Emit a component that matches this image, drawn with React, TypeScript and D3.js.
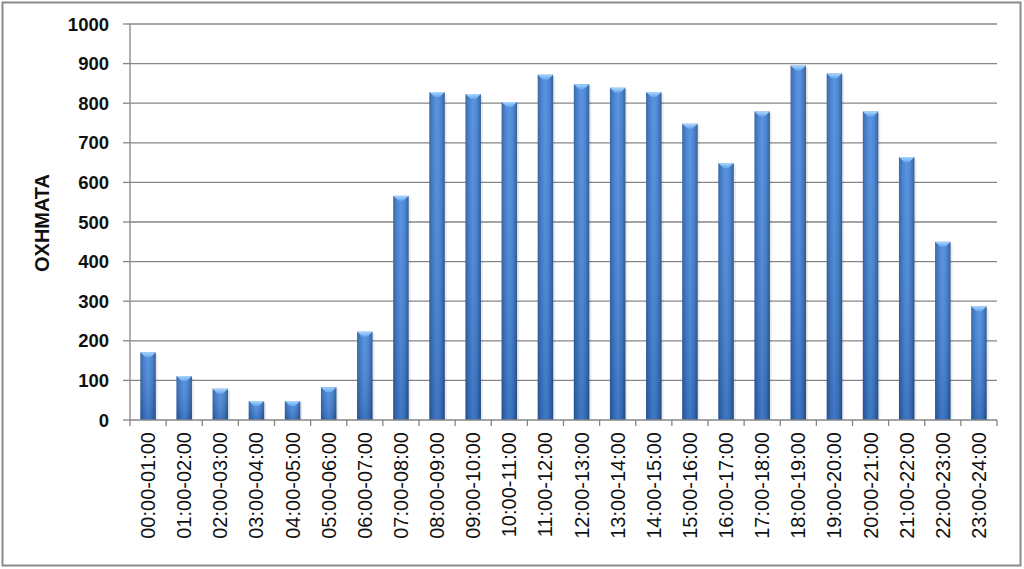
import React from "react";
import * as d3 from "d3";

const categories: string[] = [
  "00:00-01:00", "01:00-02:00", "02:00-03:00", "03:00-04:00", "04:00-05:00", "05:00-06:00",
  "06:00-07:00", "07:00-08:00", "08:00-09:00", "09:00-10:00", "10:00-11:00", "11:00-12:00",
  "12:00-13:00", "13:00-14:00", "14:00-15:00", "15:00-16:00", "16:00-17:00", "17:00-18:00",
  "18:00-19:00", "19:00-20:00", "20:00-21:00", "21:00-22:00", "22:00-23:00", "23:00-24:00",
];
const vehicles: number[] = [
  171, 111, 79, 48, 48, 83, 223, 566, 828, 823, 803, 872,
  848, 839, 828, 748, 649, 779, 895, 875, 779, 664, 450, 287,
];
const yTicks: number[] = [0, 100, 200, 300, 400, 500, 600, 700, 800, 900, 1000];
const yTitle = "ΟΧΗΜΑΤΑ";

const W = 1024;
const H = 569;
const left = 130;
const right = 997;
const top = 24;
const bottom = 420;

export default function App() {
  const x = d3.scaleBand<string>().domain(categories).range([left, right]).paddingInner(0).paddingOuter(0);
  const y = d3.scaleLinear().domain([0, 1000]).range([bottom, top]);
  const bw = 15.5;
  const grid = "#868686";

  return (
    <svg width={W} height={H} style={{ position: "absolute", left: 0, top: 0, display: "block" }}>
      <defs>
        <linearGradient id="barG" x1="0" y1="0" x2="1" y2="0">
          <stop offset="0" stopColor="#2a5ba2" />
          <stop offset="0.25" stopColor="#3d7acb" />
          <stop offset="0.5" stopColor="#4b8ce0" />
          <stop offset="0.75" stopColor="#3e7bcc" />
          <stop offset="1" stopColor="#26528f" />
        </linearGradient>
        <linearGradient id="shadeG" x1="0" y1="0" x2="0" y2="1" gradientUnits="objectBoundingBox">
          <stop offset="0" stopColor="#ffffff" stopOpacity="0.08" />
          <stop offset="1" stopColor="#0a1a40" stopOpacity="0.18" />
        </linearGradient>
        <linearGradient id="capG" x1="0" y1="0" x2="0" y2="1">
          <stop offset="0" stopColor="#a9d6ff" />
          <stop offset="1" stopColor="#62a4ec" />
        </linearGradient>
      </defs>
      <rect x={0} y={0} width={W} height={H} fill="#fff" />
      <rect x={2.5} y={2.5} width={1018} height={563} fill="none" stroke="#8a8a8a" strokeWidth={2} />

      {yTicks.map((t) => (
        <g key={t}>
          {t > 0 && (
            <line x1={left} x2={right} y1={y(t)} y2={y(t)} stroke={grid} strokeWidth={1.3} />
          )}
          <line x1={left - 7} x2={left} y1={y(t)} y2={y(t)} stroke={grid} strokeWidth={1.3} />
          <text
            x={109}
            y={y(t)}
            dy="0.36em"
            textAnchor="end"
            fontFamily="'Liberation Sans', Arial, sans-serif"
            fontWeight="bold"
            fontSize={18.5}
            fill="#111"
          >
            {t}
          </text>
        </g>
      ))}

      {categories.map((c, i) => {
        const cx = (x(c) as number) + x.bandwidth() / 2;
        const yt = y(vehicles[i]);
        const x0 = cx - bw / 2;
        const h = bottom - yt;
        return (
          <g key={c}>
            <rect x={x0 + 2} y={yt + 2} width={bw} height={h - 2} fill="#000" opacity={0.08} />
            <rect x={x0} y={yt} width={bw} height={h} fill="url(#barG)" />
            <rect x={x0} y={yt} width={bw} height={h} fill="url(#shadeG)" />
            <polygon
              points={`${x0},${yt} ${x0 + bw},${yt} ${cx + 2.5},${yt + 5} ${cx - 2.5},${yt + 5}`}
              fill="url(#capG)"
            />
          </g>
        );
      })}

      <line x1={left} x2={left} y1={top} y2={bottom} stroke={grid} strokeWidth={1.3} />
      <line x1={left} x2={right} y1={bottom} y2={bottom} stroke={grid} strokeWidth={1.3} />
      {categories.map((c) => (
        <line key={"t" + c} x1={x(c) as number} x2={x(c) as number} y1={bottom} y2={bottom + 6} stroke={grid} strokeWidth={1.3} />
      ))}
      <line x1={right} x2={right} y1={bottom} y2={bottom + 6} stroke={grid} strokeWidth={1.3} />

      {categories.map((c) => {
        const cx = (x(c) as number) + x.bandwidth() / 2;
        return (
          <text
            key={"l" + c}
            transform={`translate(${cx + 7},${432}) rotate(-90)`}
            textAnchor="end"
            fontFamily="'Liberation Sans', Arial, sans-serif"
            fontSize={20}
            fill="#111"
          >
            {c}
          </text>
        );
      })}

      <text
        transform={`translate(49,${223}) rotate(-90)`}
        textAnchor="middle"
        fontFamily="'Liberation Sans', Arial, sans-serif"
        fontWeight="bold"
        fontSize={20}
        fill="#111"
      >
        {yTitle}
      </text>
    </svg>
  );
}
